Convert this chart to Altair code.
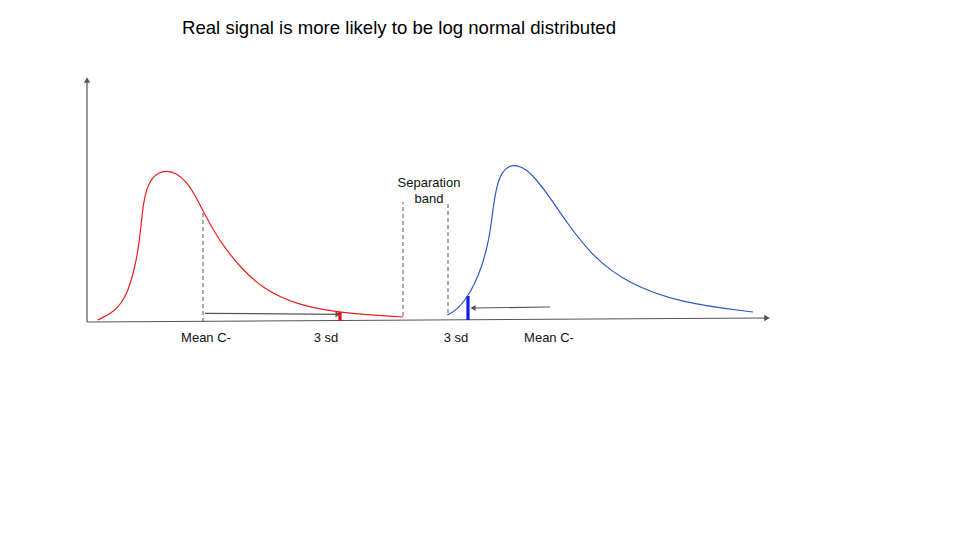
import altair as alt
import pandas as pd

# Diagram coordinates: x = distance along axis, y = height above the baseline
title_text = "Real signal is more likely to be log normal distributed"

red_x = [10.7, 24.7, 34.7, 41.3, 46.3, 50.7, 54, 56.3, 59.7, 64.7, 71.3, 79.7, 89.7, 99.7,
         108, 116.3, 128, 138, 153, 176, 210, 253, 316]
red_y = [2, 8.7, 18.7, 32, 48.7, 68.7, 95.3, 118.7, 133.7, 143.7, 149.3, 151.5, 148.7, 140.3,
         127, 110.3, 89, 74, 55, 33, 17, 9, 5]

blue_x = [360.3, 369.7, 379.7, 388, 394.7, 399.7, 403.7, 406.3, 409.7, 414.7, 421.3, 429.7,
          439.7, 449.7, 461.3, 480, 506, 540, 593, 666]
blue_y = [7, 12, 23.7, 38.7, 55.3, 73, 93, 116, 136, 149.5, 156, 157,
          152.5, 142, 127, 99, 65, 39, 19, 10]

# axes (start/end)
axis_x0 = [0, 0]
axis_y0 = [0, 0]
axis_x1 = [680, 0]
axis_y1 = [4, 242]

# dashed guide lines
dash_x = [116, 316, 361]
dash_y0 = [0, 6, 9]
dash_y1 = [110, 120, 120]

# arrows (from -> to)
arrow_x0 = [118, 463]
arrow_y0 = [8.7, 15]
arrow_x1 = [251, 386]
arrow_y1 = [7.7, 14]

# thick 3-sd ticks
tick_x = [253, 381]
tick_y0 = [1, 2]
tick_y1 = [10, 26]
tick_col = ["#e01010", "#1020e0"]

labels = ["Mean C-", "3 sd", "3 sd", "Mean C-", "Separation", "band"]
label_x = [119, 239, 369, 462, 342, 342]
label_y = [-16, -16, -16, -16, 139, 123]

XS = alt.Scale(domain=[-87, 873], range=[0, 960])
YS = alt.Scale(domain=[-218, 322], range=[540, 0])
X = lambda f: alt.X(f, type="quantitative", scale=XS, axis=None)
Y = lambda f: alt.Y(f, type="quantitative", scale=YS, axis=None)

red = alt.Chart(pd.DataFrame({"x": red_x, "y": red_y})).mark_line(
    color="#e8201c", strokeWidth=1.2, interpolate="basis"
).encode(x=X("x"), y=Y("y"))

blue = alt.Chart(pd.DataFrame({"x": blue_x, "y": blue_y})).mark_line(
    color="#2a5bc4", strokeWidth=1.2, interpolate="basis"
).encode(x=X("x"), y=Y("y"))

axes_df = pd.DataFrame({"x0": axis_x0, "y0": axis_y0, "x1": axis_x1, "y1": axis_y1})
axes = alt.Chart(axes_df).mark_rule(color="#555555", strokeWidth=1.2).encode(
    x=X("x0"), y=Y("y0"), x2="x1", y2="y1"
)
heads_df = pd.DataFrame({"x": [axis_x1[0], axis_x1[1]], "y": [axis_y1[0], axis_y1[1]],
                         "shape": ["triangle-right", "triangle-up"]})
heads = alt.Chart(heads_df).mark_point(filled=True, color="#555555", size=40, opacity=1).encode(
    x=X("x"), y=Y("y"), shape=alt.Shape("shape:N", scale=None, legend=None)
)

dash_df = pd.DataFrame({"x": dash_x, "y0": dash_y0, "y1": dash_y1})
dashes = alt.Chart(dash_df).mark_rule(color="#555555", strokeWidth=1, strokeDash=[4, 3]).encode(
    x=X("x"), y=Y("y0"), y2="y1"
)

arr_df = pd.DataFrame({"x0": arrow_x0, "y0": arrow_y0, "x1": arrow_x1, "y1": arrow_y1})
arrows = alt.Chart(arr_df).mark_rule(color="#555555", strokeWidth=1.2).encode(
    x=X("x0"), y=Y("y0"), x2="x1", y2="y1"
)
ahead_df = pd.DataFrame({"x": arrow_x1, "y": arrow_y1, "shape": ["triangle-right", "triangle-left"]})
aheads = alt.Chart(ahead_df).mark_point(filled=True, color="#555555", size=35, opacity=1).encode(
    x=X("x"), y=Y("y"), shape=alt.Shape("shape:N", scale=None, legend=None)
)

tick_df = pd.DataFrame({"x": tick_x, "y0": tick_y0, "y1": tick_y1, "c": tick_col})
ticks = alt.Chart(tick_df).mark_rule(strokeWidth=3.2).encode(
    x=X("x"), y=Y("y0"), y2="y1", color=alt.Color("c:N", scale=None, legend=None)
)

lab_df = pd.DataFrame({"t": labels, "x": label_x, "y": label_y})
texts = alt.Chart(lab_df).mark_text(
    font="Liberation Sans", fontSize=13, color="#111111", align="center", baseline="middle"
).encode(x=X("x"), y=Y("y"), text="t:N")

title_df = pd.DataFrame({"t": [title_text], "x": [312], "y": [294]})
title = alt.Chart(title_df).mark_text(
    font="Liberation Sans", fontSize=18.6, color="#000000", align="center", baseline="middle"
).encode(x=X("x"), y=Y("y"), text="t:N")

chart = alt.layer(axes, heads, dashes, red, blue, arrows, aheads, ticks, texts, title).properties(
    width=960, height=540, padding=0, autosize=alt.AutoSizeParams(type="none"), background="white"
).configure_view(stroke=None)

chart.save("out.html", embed_options={"renderer": "svg", "actions": False})
